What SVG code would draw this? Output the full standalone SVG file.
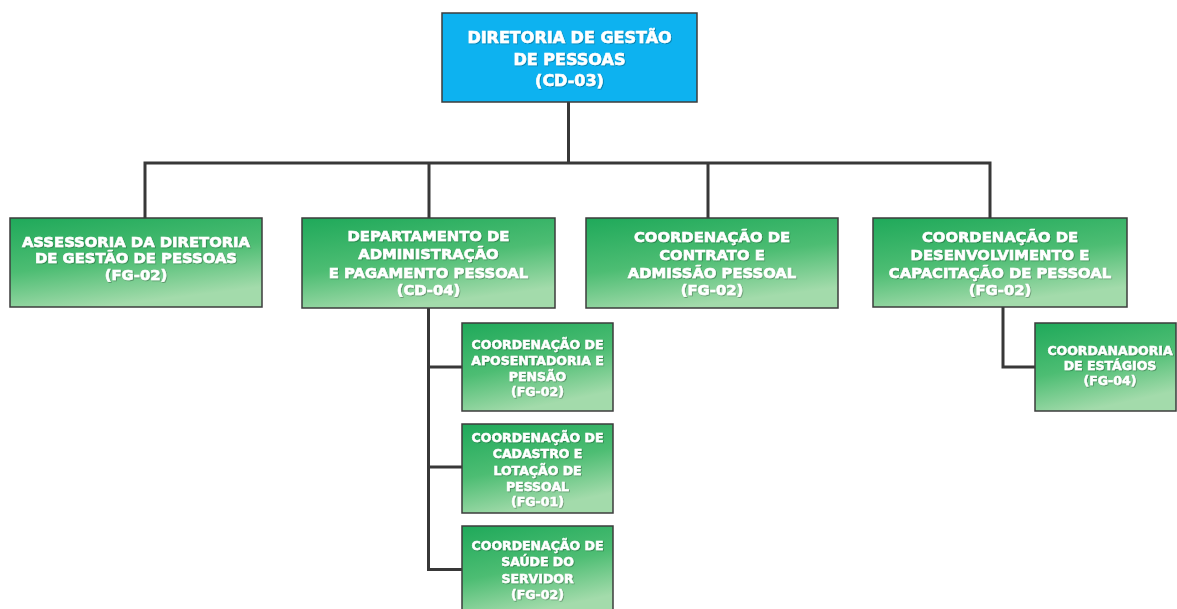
<svg xmlns="http://www.w3.org/2000/svg" width="1177" height="609" viewBox="0 0 1177 609">
<defs>
<linearGradient id="g" x1="0" y1="0" x2="0.35" y2="1">
<stop offset="0" stop-color="#1fa95a"/>
<stop offset="0.55" stop-color="#4dbd73"/>
<stop offset="1" stop-color="#a3dbab"/>
</linearGradient>
<filter id="sh" x="-5%" y="-20%" width="110%" height="140%">
<feDropShadow dx="0.8" dy="0.8" stdDeviation="0.4" flood-color="#000" flood-opacity="0.35"/>
</filter>
<style>
.box{fill:url(#g);stroke:#3c3c3c;stroke-width:1.5}
.top{fill:#0db2f0;stroke:#3c3c3c;stroke-width:1.5}
text{font-family:"DejaVu Sans","Liberation Sans",sans-serif;font-weight:bold;fill:#fff;stroke:#fff;stroke-width:0.6;text-anchor:middle;filter:url(#sh)}
.t{font-size:16px}
.l{font-size:14.8px}
.s{font-size:12.5px;stroke-width:0.5}
.c{fill:none;stroke:#383838;stroke-width:3}
</style>
</defs>
<rect width="1177" height="609" fill="#fff"/>
<g id="connectors">
<path class="c" d="M568.5 102V163M145 218V163H990V218M429 163V218M708 163V218"/>
<path class="c" d="M428.5 308V569.5H462M428.5 367H462M428.5 467H462"/>
<path class="c" d="M1003 307V367H1035"/>
</g>
<g id="n0">
<rect class="top" x="442" y="13" width="255" height="89"/>
<text class="t" x="569.5" y="43">DIRETORIA DE GESTÃO</text>
<text class="t" x="569.5" y="65">DE PESSOAS</text>
<text class="t" x="569.5" y="86">(CD-03)</text>
</g>
<g id="n1">
<rect class="box" x="10" y="218" width="252" height="89"/>
<text class="l" x="136" y="247">ASSESSORIA DA DIRETORIA</text>
<text class="l" x="136" y="263">DE GESTÃO DE PESSOAS</text>
<text class="l" x="136" y="280">(FG-02)</text>
</g>
<g id="n2">
<rect class="box" x="302" y="218" width="253" height="90"/>
<text class="l" x="428.5" y="241">DEPARTAMENTO DE</text>
<text class="l" x="428.5" y="259">ADMINISTRAÇÃO</text>
<text class="l" x="428.5" y="278">E PAGAMENTO PESSOAL</text>
<text class="l" x="428.5" y="295">(CD-04)</text>
</g>
<g id="n3">
<rect class="box" x="586" y="218" width="252" height="90"/>
<text class="l" x="712" y="242">COORDENAÇÃO DE</text>
<text class="l" x="712" y="260">CONTRATO E</text>
<text class="l" x="712" y="278">ADMISSÃO PESSOAL</text>
<text class="l" x="712" y="295">(FG-02)</text>
</g>
<g id="n4">
<rect class="box" x="873" y="218" width="254" height="89"/>
<text class="l" x="1000" y="242">COORDENAÇÃO DE</text>
<text class="l" x="1000" y="260">DESENVOLVIMENTO E</text>
<text class="l" x="1000" y="278">CAPACITAÇÃO DE PESSOAL</text>
<text class="l" x="1000" y="295">(FG-02)</text>
</g>
<g id="n5">
<rect class="box" x="462" y="323" width="151" height="88"/>
<text class="s" x="537.5" y="349">COORDENAÇÃO DE</text>
<text class="s" x="537.5" y="365">APOSENTADORIA E</text>
<text class="s" x="537.5" y="381">PENSÃO</text>
<text class="s" x="537.5" y="396">(FG-02)</text>
</g>
<g id="n6">
<rect class="box" x="462" y="424" width="151" height="89"/>
<text class="s" x="537.5" y="442">COORDENAÇÃO DE</text>
<text class="s" x="537.5" y="458">CADASTRO E</text>
<text class="s" x="537.5" y="475">LOTAÇÃO DE</text>
<text class="s" x="537.5" y="491">PESSOAL</text>
<text class="s" x="537.5" y="506">(FG-01)</text>
</g>
<g id="n7">
<rect class="box" x="462" y="526" width="151" height="89"/>
<text class="s" x="537.5" y="550">COORDENAÇÃO DE</text>
<text class="s" x="537.5" y="566">SAÚDE DO</text>
<text class="s" x="537.5" y="583">SERVIDOR</text>
<text class="s" x="537.5" y="599">(FG-02)</text>
</g>
<g id="n8">
<rect class="box" x="1035" y="323" width="141" height="88"/>
<text class="s" x="1110" y="355">COORDANADORIA</text>
<text class="s" x="1110" y="370">DE ESTÁGIOS</text>
<text class="s" x="1110" y="385">(FG-04)</text>
</g>
</svg>
